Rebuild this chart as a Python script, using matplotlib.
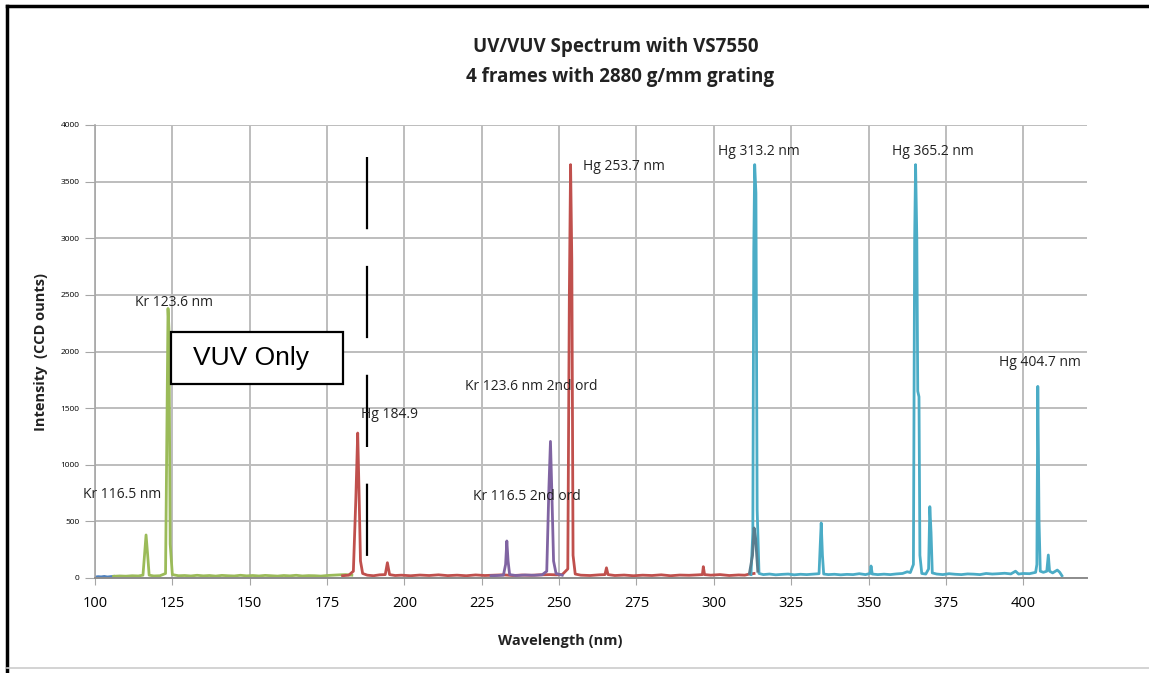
import matplotlib
matplotlib.use("Agg")
import matplotlib.pyplot as plt
from matplotlib.patches import Rectangle
from matplotlib.lines import Line2D

# ---------------- data ----------------
dark_wl = [100, 101, 102, 103, 104, 105, 106]
dark_int = [8, 12, 10, 14, 9, 12, 15]

green_wl = [106, 108, 110, 112, 114, 115.5, 116, 116.5, 117, 117.5, 119, 121, 122.8, 123.3,
            123.6, 123.9, 124.3, 125, 127, 129, 131, 133, 135, 137, 139, 141, 143, 145, 147,
            149, 151, 153, 155, 157, 159, 161, 163, 165, 167, 169, 171, 173, 175, 177, 179,
            181, 183]
green_int = [15, 18, 16, 20, 18, 25, 200, 380, 210, 25, 18, 20, 40, 1500,
             2380, 2200, 300, 30, 20, 22, 18, 24, 19, 22, 17, 23, 20, 18, 24,
             19, 22, 18, 23, 20, 17, 22, 19, 24, 18, 21, 20, 17, 22, 25, 28,
             30, 25]

red_wl = [180, 182, 183.5, 184.3, 184.9, 185.3, 185.8, 186.5, 188, 190, 192, 193.8, 194.5,
          195.2, 197, 199, 202, 205, 208, 211, 214, 217, 220, 223, 226, 229, 232, 235, 238,
          241, 244, 247, 249, 251, 252.8, 253.3, 253.7, 254.1, 254.5, 255.2, 257, 260, 263,
          264.8, 265.3, 265.8, 268, 271, 274, 277, 280, 283, 286, 289, 292, 295, 296.3,
          296.6, 297, 299, 302, 305, 308, 310, 311.5, 313]
red_int = [20, 25, 60, 700, 1280, 800, 150, 40, 25, 20, 28, 30, 135,
           30, 22, 25, 20, 26, 22, 28, 21, 25, 20, 27, 22, 25, 28, 22, 26,
           24, 28, 30, 28, 30, 80, 2500, 3650, 2800, 200, 35, 25, 22, 28,
           30, 90, 30, 22, 26, 20, 25, 22, 28, 20, 26, 24, 28, 30,
           100, 30, 25, 30, 22, 27, 25, 35, 40]

purple_wl = [228, 230, 232, 232.7, 233.1, 233.5, 234, 236, 239, 242, 244.5, 246, 246.7,
             247.2, 247.7, 248.2, 249, 251]
purple_int = [20, 22, 25, 120, 327, 150, 30, 22, 26, 24, 28, 60, 800,
              1206, 700, 150, 40, 25]

cyan_wl = [312, 312.6, 312.9, 313.2, 313.6, 314, 314.6, 316, 318, 320, 322, 324, 326, 328,
           330, 332, 334, 334.4, 334.7, 335.1, 335.5, 337, 339, 341, 343, 345, 347, 349,
           350.5, 350.8, 351.2, 353, 355, 357, 359, 361, 362.5, 363.5, 364.5, 364.9, 365.2,
           365.6, 365.9, 366.3, 366.6, 367.2, 368.5, 369.4, 369.8, 370.2, 370.6, 372, 374,
           376, 378, 380, 382, 384, 386, 388, 390, 392, 394, 396, 397.5, 398.5, 400, 402,
           404, 404.4, 404.7, 405.1, 405.5, 406.5, 407.6, 408.1, 408.5, 409.5, 411, 411.8,
           412.5]
cyan_int = [30, 400, 2880, 3650, 3400, 600, 40, 30, 35, 28, 32, 35, 28, 33,
            30, 34, 38, 300, 486, 200, 35, 30, 33, 28, 32, 30, 38, 30,
            40, 106, 35, 30, 34, 30, 36, 40, 55, 48, 120, 3000, 3650,
            3000, 1650, 1600, 200, 40, 35, 80, 630, 400, 45, 35, 30,
            38, 33, 30, 36, 34, 30, 40, 35, 38, 42, 36, 60, 35, 40, 38,
            50, 120, 1692, 500, 60, 50, 60, 203, 60, 45, 70, 50,
            20]

overlap_wl = [311.5, 312.5, 313, 313.5, 314.2]
overlap_int = [40, 200, 442, 350, 60]

x_ticks = [100, 125, 150, 175, 200, 225, 250, 275, 300, 325, 350, 375, 400]
y_ticks = [0, 500, 1000, 1500, 2000, 2500, 3000, 3500, 4000]

labels = [
    ("Kr 123.6 nm", 112.9, 2430),
    ("Kr 116.5 nm", 96.1, 734),
    ("Hg 184.9", 185.9, 1442),
    ("Kr 123.6 nm 2nd ord", 219.6, 1692),
    ("Kr 116.5 2nd ord", 222.1, 719),
    ("Hg 253.7 nm", 257.8, 3635),
    ("Hg 313.2 nm", 301.5, 3770),
    ("Hg 365.2 nm", 357.6, 3770),
    ("Hg 404.7 nm", 392.0, 1899),
]

# ---------------- figure ----------------
plt.rcParams['font.family'] = ['Open Sans', 'DejaVu Sans']
fig = plt.figure(figsize=(11.49, 6.73), dpi=100)
ax = fig.add_axes([95 / 1149, 1 - 578 / 673, (1087 - 95) / 1149, (578 - 125) / 673])

ax.set_xlim(100, 420.6)
ax.set_ylim(0, 4000)
ax.set_xticks(x_ticks)
ax.set_yticks(y_ticks)
ax.grid(True, color='#BDBDBD', linewidth=1.4)
ax.set_axisbelow(True)
for s in ['top', 'right']:
    ax.spines[s].set_visible(False)
ax.spines['left'].set_color('#A6A6A6')
ax.spines['bottom'].set_color('#8C8C8C')
ax.spines['left'].set_linewidth(1.2)
ax.spines['bottom'].set_linewidth(1.4)
ax.tick_params(axis='x', length=5, color='#A6A6A6', labelsize=10.5, pad=8)
ax.tick_params(axis='y', length=7, color='#A6A6A6', labelsize=6, pad=4)

lw = 2.0
ax.plot(dark_wl, dark_int, color='#4F81BD', lw=lw)
ax.plot(green_wl, green_int, color='#9BBB59', lw=lw)
ax.plot(red_wl, red_int, color='#C0504D', lw=lw)
ax.plot(purple_wl, purple_int, color='#8064A2', lw=lw)
ax.plot(cyan_wl, cyan_int, color='#4BACC6', lw=lw)
ax.plot(overlap_wl, overlap_int, color='#5A7D8E', lw=lw)

# dashed divider (drawn top to bottom so it starts with a dash)
ax.plot([187.9, 187.9], [3714, 186], color='black', lw=1.6,
        dashes=(32.5, 16.5), solid_capstyle='butt', dash_capstyle='butt')

# VUV Only box
ax.add_patch(Rectangle((124.6, 1716), 55.6, 460, facecolor='white',
                       edgecolor='black', lw=1.6, zorder=5))
ax.text(150.3, 1946, "VUV Only", fontsize=19, family=['Liberation Sans', 'DejaVu Sans'],
        ha='center', va='center', zorder=6)

for txt, x, y in labels:
    ax.text(x, y, txt, fontsize=10, ha='left', va='center', color='#222222', zorder=4)

fig.text(616 / 1149, 1 - 47 / 673, "UV/VUV Spectrum with VS7550", fontsize=13.5,
         fontweight='bold', ha='center', va='center', color='#222222')
fig.text(620 / 1149, 1 - 77 / 673, "4 frames with 2880 g/mm grating", fontsize=13.5,
         fontweight='bold', ha='center', va='center', color='#222222')
fig.text(560 / 1149, 1 - 641 / 673, "Wavelength (nm)", fontsize=10.5,
         fontweight='bold', ha='center', va='center', color='#222222')
fig.text(41 / 1149, 1 - 352 / 673, "Intensity  (CCD ounts)", fontsize=10.5,
         fontweight='bold', ha='center', va='center', rotation=90, color='#222222')

# figure border
fig.add_artist(Line2D([7 / 1149, 7 / 1149], [0, 1 - 6 / 673], color='black', lw=2.5,
                      transform=fig.transFigure))
fig.add_artist(Line2D([7 / 1149, 1], [1 - 6 / 673, 1 - 6 / 673], color='black', lw=2.5,
                      transform=fig.transFigure))
fig.add_artist(Line2D([7 / 1149, 1], [1 - 668 / 673, 1 - 668 / 673], color='#CCCCCC', lw=1.2,
                      transform=fig.transFigure))

fig.savefig("out.png", dpi=100)
